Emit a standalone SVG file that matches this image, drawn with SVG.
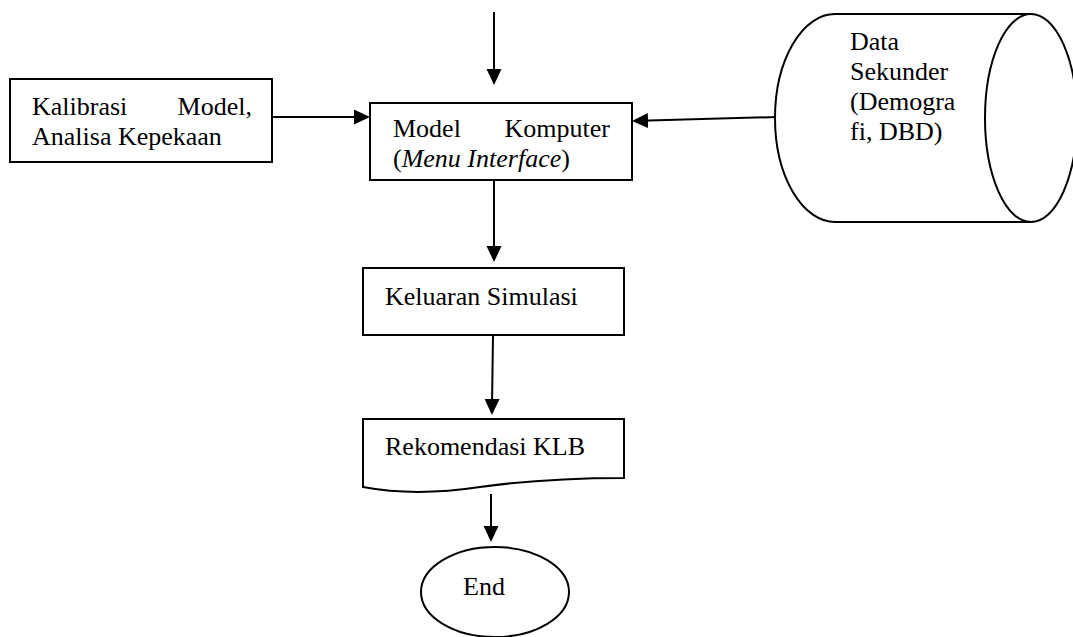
<svg xmlns="http://www.w3.org/2000/svg" width="1073" height="637" viewBox="0 0 1073 637">
<style>
.shape{fill:#fff;stroke:#000;stroke-width:2}
.conn{fill:none;stroke:#000;stroke-width:2}
.t{font-family:"Liberation Serif","Times New Roman",serif;font-size:26px;fill:#000}
</style>
<defs>
<marker id="ah" markerUnits="userSpaceOnUse" markerWidth="17" markerHeight="16" refX="8" refY="7.5" orient="auto" viewBox="0 0 17 16">
<path d="M0,0 L16,7.5 L0,15 Z" fill="#000"/>
</marker>
</defs>
<rect width="1073" height="637" fill="#fff"/>
<g id="connectors">
<line class="conn" x1="494" y1="12" x2="494" y2="77" marker-end="url(#ah)"/>
<line class="conn" x1="272" y1="117" x2="362" y2="117" marker-end="url(#ah)"/>
<line class="conn" x1="777" y1="117" x2="640" y2="120.8" marker-end="url(#ah)"/>
<line class="conn" x1="494" y1="180" x2="494" y2="254" marker-end="url(#ah)"/>
<line class="conn" x1="493" y1="335" x2="492" y2="407" marker-end="url(#ah)"/>
<line class="conn" x1="491" y1="494" x2="491" y2="534" marker-end="url(#ah)"/>
</g>
<g id="kalibrasi">
<rect class="shape" x="10" y="79" width="262" height="83"/>
<text class="t"><tspan x="32" y="115">Kalibrasi</tspan><tspan x="252" y="115" text-anchor="end">Model,</tspan><tspan x="32" y="145">Analisa Kepekaan</tspan></text>
</g>
<g id="model">
<rect class="shape" x="370" y="103" width="262" height="77"/>
<text class="t"><tspan x="393" y="137">Model</tspan><tspan x="610" y="137" text-anchor="end">Komputer</tspan><tspan x="393" y="167">(<tspan font-style="italic">Menu Interface</tspan>)</tspan></text>
</g>
<g id="data-sekunder">
<path class="shape" d="M1031,14 H835 A60,104 0 0,0 835,222 H1031"/>
<ellipse class="shape" cx="1031" cy="118" rx="46" ry="104"/>
<text class="t"><tspan x="850" y="50">Data</tspan><tspan x="850" y="80">Sekunder</tspan><tspan x="850" y="110">(Demogra</tspan><tspan x="850" y="140">fi, DBD)</tspan></text>
</g>
<g id="keluaran">
<rect class="shape" x="363" y="268" width="261" height="67"/>
<text class="t" x="385" y="305">Keluaran Simulasi</text>
</g>
<g id="rekomendasi">
<path class="shape" d="M363,419 H624 V478 C580,478 530,480 480,487 C440,493 400,494 363,487 Z"/>
<text class="t" x="385" y="455">Rekomendasi KLB</text>
</g>
<g id="end">
<ellipse class="shape" cx="495" cy="592" rx="74" ry="45"/>
<text class="t" x="463" y="595">End</text>
</g>
</svg>
